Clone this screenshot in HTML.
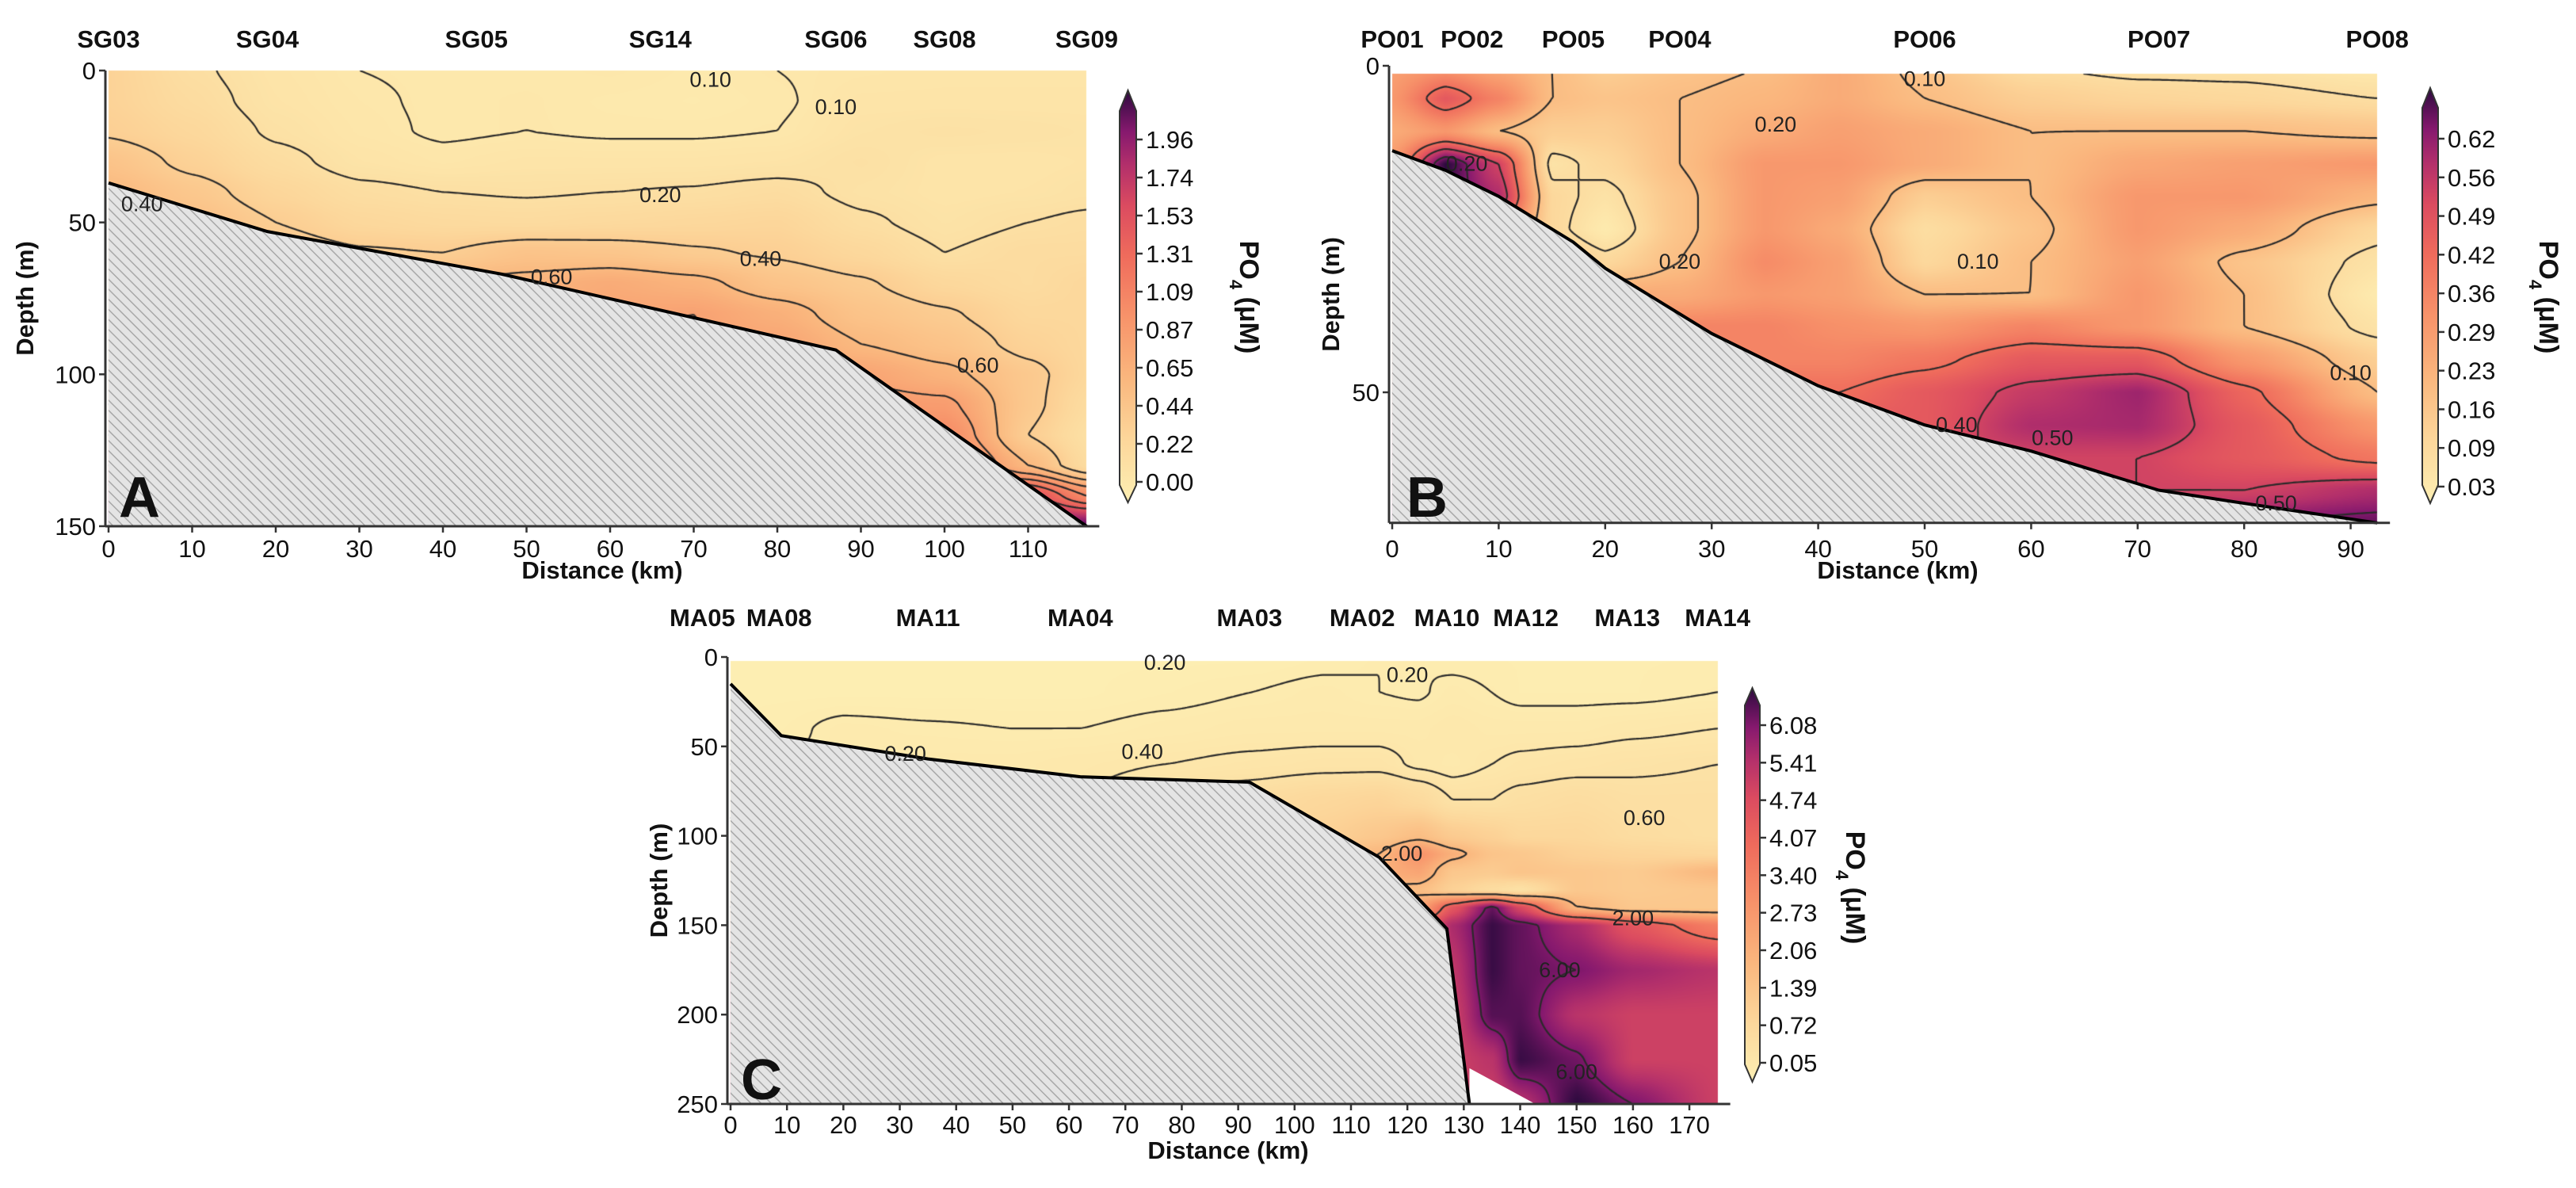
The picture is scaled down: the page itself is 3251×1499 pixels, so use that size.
<!DOCTYPE html>
<html><head><meta charset="utf-8">
<style>
html,body{margin:0;padding:0;background:#fff;}
#wrap{position:relative;width:3251px;height:1499px;overflow:hidden;}
canvas,svg{position:absolute;left:0;top:0;}
text{font-family:"Liberation Sans Narrow","Liberation Sans",sans-serif;fill:#111;}
.tk{font-size:31px;}
.st{font-size:31px;font-weight:bold;font-family:"Liberation Sans",sans-serif;}
.ttl{font-size:31px;font-weight:bold;font-family:"Liberation Sans",sans-serif;}
.cl{font-size:27px;fill:#222;}
.let{font-size:72px;font-weight:bold;font-family:"Liberation Sans",sans-serif;}
</style></head>
<body>
<div id="wrap">
<canvas id="cv" width="3251" height="1499"></canvas>
<svg id="sv" width="3251" height="1499" viewBox="0 0 3251 1499" xmlns="http://www.w3.org/2000/svg">
<defs>
<pattern id="hatch" patternUnits="userSpaceOnUse" width="9" height="9" patternTransform="rotate(-45)">
<rect width="9" height="9" fill="#e4e4e4"/><line x1="0" y1="0" x2="0" y2="9" stroke="#a8a8a8" stroke-width="3"/>
</pattern>
<linearGradient id="cmap" x1="0" y1="1" x2="0" y2="0">
<stop offset="0" stop-color="#fdefb3"/><stop offset="0.15" stop-color="#fcd79b"/><stop offset="0.3" stop-color="#fab77e"/>
<stop offset="0.45" stop-color="#f7936a"/><stop offset="0.6" stop-color="#ef6b5c"/><stop offset="0.72" stop-color="#db4b60"/>
<stop offset="0.82" stop-color="#b22f6b"/><stop offset="0.9" stop-color="#86196e"/><stop offset="1" stop-color="#2c0a3e"/>
</linearGradient>
</defs>
<g id="ov"></g>
</svg>
</div>
<script>
// ---------- DATA ----------
// Panel A (SG)
const aDist=[0,10,20,30,40,50,60,70,80,90,100,110,117];
const aDepth=[0,10,20,30,40,50,60,70,80,90,100,110,120,130,140,150];
const aRow0=[.35,.22,.14,.1,.09,.09,.1,.08,.1,.12,.13,.13,.13];
const aRow10=[.35,.25,.15,.11,.09,.1,.08,.07,.09,.14,.14,.14,.14];
const aRow20=[.38,.3,.18,.12,.09,.1,.09,.09,.1,.16,.18,.17,.16];
const aRow30=[.5,.36,.24,.15,.12,.14,.14,.14,.15,.19,.14,.14,.15];
const aRow40=[.6,.46,.32,.23,.2,.19,.2,.21,.24,.17,.14,.15,.17];
const aRow50=[.62,.55,.4,.3,.27,.26,.28,.3,.32,.22,.16,.2,.22];
const aRow60=[.62,.6,.5,.42,.4,.5,.48,.42,.38,.3,.2,.25,.25];
const aRow70=[.62,.62,.62,.62,.62,.65,.72,.65,.5,.42,.3,.25,.3];
const aRow80=[.62,.62,.62,.62,.62,.7,.78,.8,.68,.5,.42,.3,.3];
const aRow90=[.62,.62,.62,.62,.62,.7,.78,.82,.78,.6,.5,.35,.3];
const aRow100=[.7,.7,.7,.7,.7,.7,.8,.8,.8,.78,.65,.45,.3];
const aRow110=[.8,.8,.8,.8,.8,.8,.8,.8,.85,.88,.85,.45,.25];
const aRow120=[1,1,1,1,1,1,1,1,1,1,1.0,.4,.2];
const aRow130=[1.2,1.2,1.2,1.2,1.2,1.2,1.2,1.2,1.2,1.3,1.2,.6,.25];
const aRow140=[1.5,1.5,1.5,1.5,1.5,1.5,1.5,1.5,1.5,1.6,1.6,1.5,1.0];
const aRow150=[2,2,2,2,2,2,2,2,2,2,2,2,2];
const aFloorX=[0,19,47,87,117];
const aFloorD=[37,53,67,92,150];
const aLevels=[0.1,0.2,0.4,0.6,0.8,1.0,1.2,1.4];
const aTicks=["0.00","0.22","0.44","0.65","0.87","1.09","1.31","1.53","1.74","1.96"];
const aStations=["SG03","SG04","SG05","SG14","SG06","SG08","SG09"];
const aStationX=[0,19,44,66,87,100,117];

// Panel B (PO)
const bDist=[0,5,10,15,20,27,35,42,50,60,70,80,92.5];
const bDepth=[0,5,10,15,20,25,30,35,40,45,50,55,60,65,70];
const bRow0=[.28,.3,.25,.2,.15,.18,.2,.25,.18,.1,.08,.08,.05];
const bRow5=[.3,.45,.35,.2,.18,.2,.22,.25,.2,.15,.13,.12,.1];
const bRow10=[.25,.3,.2,.15,.15,.2,.25,.28,.25,.2,.2,.2,.18];
const bRow15=[.3,.66,.5,.08,.12,.2,.3,.3,.25,.2,.26,.28,.3];
const bRow20=[.3,.64,.55,.12,.08,.18,.3,.28,.15,.2,.3,.3,.22];
const bRow25=[.3,.6,.4,.12,.05,.18,.3,.25,.1,.18,.3,.25,.12];
const bRow30=[.3,.5,.4,.2,.12,.2,.33,.28,.12,.2,.28,.18,.08];
const bRow35=[.3,.4,.35,.3,.25,.25,.3,.28,.2,.2,.3,.2,.05];
const bRow40=[.3,.35,.35,.35,.35,.35,.35,.32,.3,.35,.3,.2,.08];
const bRow45=[.35,.35,.35,.35,.35,.35,.35,.35,.38,.45,.45,.3,.15];
const bRow50=[.4,.4,.4,.4,.4,.4,.4,.4,.45,.52,.57,.42,.2];
const bRow55=[.45,.45,.45,.45,.45,.45,.45,.45,.45,.55,.56,.45,.3];
const bRow60=[.5,.5,.5,.5,.5,.5,.5,.5,.5,.5,.5,.45,.38];
const bRow65=[.5,.5,.5,.5,.5,.5,.5,.5,.5,.5,.5,.5,.55];
const bRow70=[.6,.6,.6,.6,.6,.6,.6,.6,.6,.6,.6,.6,.62];
const bFloorX=[0,5,10,17,20,27,30,40,50,60,72,80,92.5];
const bFloorD=[13,16,20,27,31,38,41,49,55,59,65,67,70];
const bLevels=[0.1,0.2,0.4,0.5,0.6];
const bTicks=["0.03","0.09","0.16","0.23","0.29","0.36","0.42","0.49","0.56","0.62"];
const bStations=["PO01","PO02","PO05","PO04","PO06","PO07","PO08"];
const bStationX=[0,7.5,17,27,50,72,92.5];

// Panel C (MA)
const cDist=[0,9,20,35,50,62,77,92,105,115,122,128,135,140,150,160,175];
const cDepth=[0,20,40,60,80,100,110,120,130,140,150,175,200,225,250];
const cRow0=[.1,.1,.1,.1,.1,.1,.1,.1,.15,.2,.2,.15,.15,.15,.15,.15,.15];
const cRow20=[.1,.1,.1,.1,.1,.1,.15,.2,.25,.2,.18,.25,.2,.15,.15,.15,.2];
const cRow40=[.1,.15,.25,.22,.2,.2,.25,.3,.3,.3,.3,.35,.3,.3,.3,.35,.4];
const cRow60=[.2,.2,.25,.3,.3,.35,.4,.45,.5,.5,.35,.3,.4,.45,.5,.55,.6];
const cRow80=[.3,.3,.3,.3,.3,.4,.6,.8,1.0,1.1,.9,.6,.6,.7,.8,.7,.7];
const cRow100=[.5,.5,.5,.5,.5,.6,.8,1.0,1.2,1.5,1.8,1.4,1.2,1.0,1.0,.8,.7];
const cRow110=[.8,.8,.8,.8,.8,.9,1.0,1.2,1.5,2.0,3.0,2.2,1.6,1.5,1.2,1.1,1.0];
const cRow120=[1,1,1,1,1,1,1.2,1.5,1.8,2.2,2.5,1.5,1.4,1.6,1.5,1.4,2.0];
const cRow130=[1.5,1.5,1.5,1.5,1.5,1.5,1.6,1.8,2,2,1.8,1.2,.8,.6,1.5,1.4,1.5];
const cRow140=[2,2,2,2,2,2,2,2,2,2,2.5,4.5,6.2,4.8,2,1.5,1.5];
const cRow150=[3,3,3,3,3,3,3,3,3,3,4,5.5,6.5,6.2,5.5,4.5,3.5];
const cRow175=[5,5,5,5,5,5,5,5,5,5,5,5.2,6.5,6.2,6,5.6,5.3];
const cRow200=[5,5,5,5,5,5,5,5,5,5,5,5,6.3,6.3,5.3,5,5];
const cRow225=[5,5,5,5,5,5,5,5,5,5,5,5,5.3,6.5,6.1,5,5];
const cRow250=[5,5,5,5,5,5,5,5,5,5,5,5,5,5.3,6.6,6,5];
const cFloorX=[0,9,35,62,92,115,127,131];
const cFloorD=[15,44,57,67,70,112,152,250];
const cLevels=[0.2,0.4,0.6,2,4,6];
const cTicks=["0.05","0.72","1.39","2.06","2.73","3.40","4.07","4.74","5.41","6.08"];
const cStations=["MA05","MA08","MA11","MA04","MA03","MA02","MA10","MA12","MA13","MA14"];
const cStationX=[-5,8.6,35,62,92,112,127,141,159,175];

// ---------- RENDER ----------
const panels=[
 {id:'a',dist:aDist,depth:aDepth,rows:[aRow0,aRow10,aRow20,aRow30,aRow40,aRow50,aRow60,aRow70,aRow80,aRow90,aRow100,aRow110,aRow120,aRow130,aRow140,aRow150],
  fx:aFloorX,fd:aFloorD,levels:aLevels,ticks:aTicks,st:aStations,sx:aStationX,
  x0:137,kx:10.55,xmax:117,y0:89,ky:3.833,dmax:150,vmin:0,vmax:2.07,top:0,
  xt:[0,10,20,30,40,50,60,70,80,90,100,110],yt:[0,50,100,150],
  cb:{x:1413,w:21,t0:608,t9:176,bt:140,bb:612,tt:114,tb:634},letter:'A',lx:150,ly:652,
  depthX:42,distX:760,distY:730,cbLabX:1565,cbLabY:375,stY:60,tickY:703},
 {id:'b',dist:bDist,depth:bDepth,rows:[bRow0,bRow5,bRow10,bRow15,bRow20,bRow25,bRow30,bRow35,bRow40,bRow45,bRow50,bRow55,bRow60,bRow65,bRow70],
  fx:bFloorX,fd:bFloorD,levels:bLevels,ticks:bTicks,st:bStations,sx:bStationX,
  x0:1757,kx:13.44,xmax:92.5,y0:83,ky:8.24,dmax:70,vmin:0.03,vmax:0.66,top:1.2,
  xt:[0,10,20,30,40,50,60,70,80,90],yt:[0,50],
  cb:{x:3057,w:20,t0:614,t9:175,bt:136,bb:612,tt:111,tb:635},letter:'B',lx:1775,ly:652,
  depthX:1690,distX:2395,distY:730,cbLabX:3205,cbLabY:375,stY:60,tickY:703},
 {id:'c',dist:cDist,depth:cDepth,rows:[cRow0,cRow20,cRow40,cRow60,cRow80,cRow100,cRow110,cRow120,cRow130,cRow140,cRow150,cRow175,cRow200,cRow225,cRow250],
  fx:cFloorX,fd:cFloorD,levels:cLevels,ticks:cTicks,st:cStations,sx:cStationX,
  x0:922,kx:7.118,xmax:175,y0:829,ky:2.256,dmax:250,vmin:0.05,vmax:6.6,top:2,
  xt:[0,10,20,30,40,50,60,70,80,90,100,110,120,130,140,150,160,170],yt:[0,50,100,150,200,250],
  cb:{x:2202,w:19,t0:1341,t9:915,bt:890,bb:1343,tt:868,tb:1365},letter:'C',lx:935,ly:1387,
  depthX:842,distX:1550,distY:1462,cbLabX:2330,cbLabY:1120,stY:790,tickY:1430}
];
const stops=[[0,[253,239,179]],[.15,[252,215,155]],[.3,[250,183,126]],[.45,[247,147,106]],[.6,[239,107,92]],[.72,[219,75,96]],[.82,[178,47,107]],[.9,[134,25,110]],[1,[44,10,62]]];
function cmap(t){t=Math.max(0,Math.min(1,t));for(let i=0;i<stops.length-1;i++){const a=stops[i],b=stops[i+1];if(t<=b[0]){const f=(t-a[0])/(b[0]-a[0]);return [0,1,2].map(k=>a[1][k]+(b[1][k]-a[1][k])*f);}}return stops[stops.length-1][1];}
function idx(arr,v){let i=0;while(i<arr.length-2&&v>arr[i+1])i++;let f=(v-arr[i])/(arr[i+1]-arr[i]);f=Math.max(0,Math.min(1,f));f=f*f*(3-2*f)*0.5+f*0.5;return [i,f];}
function val(p,x,d){const [i,fx]=idx(p.dist,x),[j,fy]=idx(p.depth,d);const r0=p.rows[j],r1=p.rows[j+1];
 return (r0[i]*(1-fx)+r0[i+1]*fx)*(1-fy)+(r1[i]*(1-fx)+r1[i+1]*fx)*fy;}
const X=(p,v)=>p.x0+v*p.kx, Y=(p,v)=>p.y0+v*p.ky;
const cv=document.getElementById('cv'),ctx=cv.getContext('2d');
const NS='http://www.w3.org/2000/svg',ov=document.getElementById('ov');
function mk(tag,attrs,txt,parent){const e=document.createElementNS(NS,tag);for(const k in attrs)e.setAttribute(k,attrs[k]);if(txt!==undefined)e.textContent=txt;(parent||ov).appendChild(e);return e;}

panels.forEach(p=>{
 const px0=Math.round(X(p,0)),px1=Math.round(X(p,p.xmax)),py0=Math.round(Y(p,p.top)),py1=Math.round(Y(p,p.dmax));
 const W=px1-px0,H=py1-py0,img=ctx.createImageData(W,H);
 for(let yy=0;yy<H;yy++){const d=(py0+yy-p.y0)/p.ky;for(let xx=0;xx<W;xx++){const x=(px0+xx-p.x0)/p.kx;
  const v=val(p,x,d),c=cmap((v-p.vmin)/(p.vmax-p.vmin)),o=(yy*W+xx)*4;img.data[o]=c[0];img.data[o+1]=c[1];img.data[o+2]=c[2];img.data[o+3]=255;}}
 ctx.putImageData(img,px0,py0);
 const s=3,nx=Math.ceil(W/s)+1,ny=Math.ceil(H/s)+1,G=[];
 for(let j=0;j<ny;j++){G[j]=[];for(let i=0;i<nx;i++){G[j][i]=val(p,(px0+i*s-p.x0)/p.kx,(py0+j*s-p.y0)/p.ky);}}
 ctx.save();ctx.beginPath();ctx.rect(px0,py0,W,H);ctx.clip();
 ctx.strokeStyle='#2a2a2a';ctx.lineWidth=2.2;ctx.beginPath();
 p.levels.forEach(L=>{for(let j=0;j<ny-1;j++)for(let i=0;i<nx-1;i++){
  const a=G[j][i],b=G[j][i+1],c=G[j+1][i+1],d=G[j+1][i];const pts=[];
  const e=(v1,v2,x1,y1,x2,y2)=>{const f=(L-v1)/(v2-v1);pts.push([x1+(x2-x1)*f,y1+(y2-y1)*f]);};
  const X0=px0+i*s,Y0=py0+j*s;
  if((a<L)!=(b<L))e(a,b,X0,Y0,X0+s,Y0);if((b<L)!=(c<L))e(b,c,X0+s,Y0,X0+s,Y0+s);
  if((c<L)!=(d<L))e(c,d,X0+s,Y0+s,X0,Y0+s);if((d<L)!=(a<L))e(d,a,X0,Y0+s,X0,Y0);
  for(let k=0;k+1<pts.length;k+=2){ctx.moveTo(pts[k][0],pts[k][1]);ctx.lineTo(pts[k+1][0],pts[k+1][1]);}
 }});
 ctx.stroke();ctx.restore();

 const g=mk('g',{});
 
 
 let pts=p.fx.map((x,i)=>X(p,x)+','+Y(p,p.fd[i])).join(' ');
 const hp=mk('polygon',{points:X(p,0)+','+Y(p,p.dmax)+' '+pts+' '+X(p,p.fx[p.fx.length-1])+','+Y(p,p.dmax),fill:'url(#hatch)'},undefined,g);
 
 
 if(p.id==='c'){const w=mk('polygon',{points:X(p,131)+','+Y(p,230)+' '+X(p,142.7)+','+Y(p,250)+' '+X(p,131)+','+Y(p,250),fill:'#fff'},undefined,g);
  
  }
 const fl=mk('polyline',{points:pts,fill:'none',stroke:'#000','stroke-width':4},undefined,g);
 
 
 const ax=X(p,0)-4,by=Y(p,p.dmax);
 mk('line',{x1:ax,y1:Y(p,0),x2:ax,y2:by,stroke:'#333','stroke-width':3},undefined,g);
 mk('line',{x1:ax,y1:by,x2:X(p,p.xmax)+16,y2:by,stroke:'#333','stroke-width':3},undefined,g);
 p.xt.forEach(v=>{mk('line',{x1:X(p,v),y1:by,x2:X(p,v),y2:by+8,stroke:'#333','stroke-width':2.5},undefined,g);
  const t=mk('text',{x:X(p,v),y:p.tickY,'text-anchor':'middle',class:'tk'},String(v),g);
  
  });
 p.yt.forEach(v=>{mk('line',{x1:ax-8,y1:Y(p,v),x2:ax,y2:Y(p,v),stroke:'#333','stroke-width':2.5},undefined,g);
  const t=mk('text',{x:ax-12,y:Y(p,v)+11,'text-anchor':'end',class:'tk'},String(v),g);
  
  });
 p.st.forEach((n,i)=>{const t=mk('text',{x:X(p,p.sx[i]),y:p.stY,'text-anchor':'middle',class:'st'},n,g);
  
  });
 const midY=(Y(p,0)+by)/2;
 const dl=mk('text',{x:p.depthX,y:midY,'text-anchor':'middle',class:'ttl',transform:'rotate(-90 '+p.depthX+' '+midY+')'},'Depth (m)',g);
 
 
 const xl=mk('text',{x:p.distX,y:p.distY,'text-anchor':'middle',class:'ttl'},'Distance (km)',g);
 
 
 const lt=mk('text',{x:p.lx,y:p.ly,class:'let'},p.letter,g);
 
 
 const c=p.cb,cx=c.x,cw=c.w;
 const cbp=mk('path',{d:`M${cx},${c.bt} L${cx+cw/2},${c.tt} L${cx+cw},${c.bt} L${cx+cw},${c.bb} L${cx+cw/2},${c.tb} L${cx},${c.bb} Z`,fill:'url(#cmap)',stroke:'#333','stroke-width':2},undefined,g);
 
 
 p.ticks.forEach((t,i)=>{const y=c.t0+(c.t9-c.t0)*i/9;
  mk('line',{x1:cx+cw,y1:y,x2:cx+cw+8,y2:y,stroke:'#333','stroke-width':2.5},undefined,g);
  const tt=mk('text',{x:cx+cw+12,y:y+11,class:'tk'},t,g);
  
  });
 const cl=mk('text',{x:p.cbLabX,y:p.cbLabY,'text-anchor':'middle',class:'ttl',style:'font-size:34px',transform:'rotate(90 '+p.cbLabX+' '+p.cbLabY+')'},'',g);
 
 
 cl.innerHTML='PO<tspan baseline-shift="sub" font-size="22">4</tspan> (μM)';
});

const labelPanel=['a','a','a','a','a','a','a','b','b','b','b','b','b','b','b','b','c','c','c','c','c','c','c','c','c'];
const labelX=[72,87,66,4,78,53,104,7,36,50,55,27,90,53,62,83,77,120,31,73,162,119,160,147,150];
const labelD=[3,12,41,44,62,68,97,15,9,2,30,30,47,55,57,67,3,10,54,53,90,110,146,175,232];
const labelT=['0.10','0.10','0.20','0.40','0.40','0.60','0.60','0.20','0.20','0.10','0.10','0.20','0.10','0.40','0.50','0.50','0.20','0.20','0.20','0.40','0.60','2.00','2.00','6.00','6.00'];
labelT.forEach((t,i)=>{const p=panels.find(q=>q.id===labelPanel[i]);
 const e=mk('text',{x:X(p,labelX[i]),y:Y(p,labelD[i])+9,'text-anchor':'middle',class:'cl'},t);
 
 });
</script>
</body></html>
